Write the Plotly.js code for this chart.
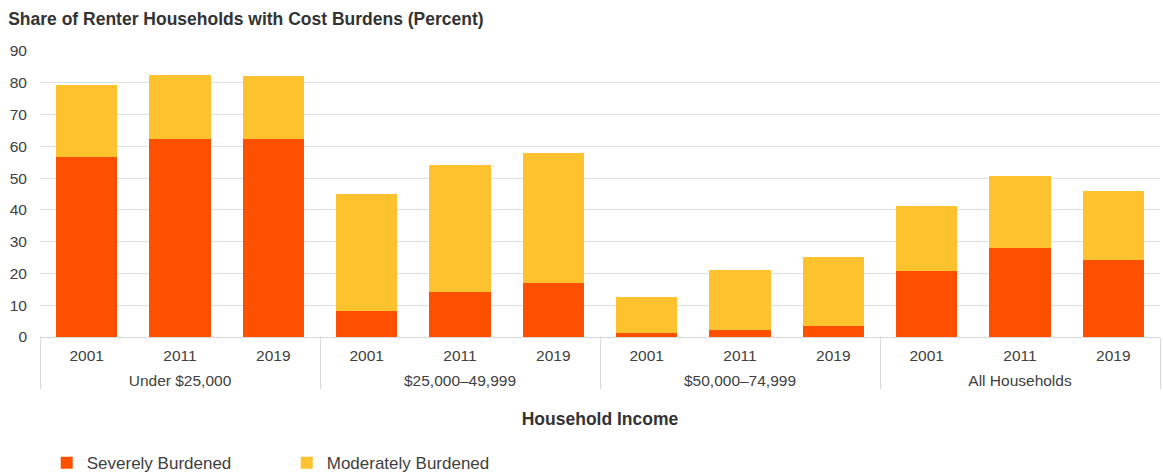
<!DOCTYPE html>
<html>
<head>
<meta charset="utf-8">
<script src="https://cdn.plot.ly/plotly-3.0.1.min.js"></script>
<style>html,body{margin:0;padding:0;background:#fff;}#chart{width:1163px;height:474px;}</style>
</head>
<body>
<div id="chart"></div>
<script>
var groups = ["Under $25,000","Under $25,000","Under $25,000",
              "$25,000–49,999","$25,000–49,999","$25,000–49,999",
              "$50,000–74,999","$50,000–74,999","$50,000–74,999",
              "All Households","All Households","All Households"];
var years = ["2001","2011","2019","2001","2011","2019","2001","2011","2019","2001","2011","2019"];
var severe   = [56.5, 62.4, 62.2, 8.3, 14.1, 16.9, 1.2, 2.1, 3.5, 20.7, 28.0, 24.2];
var moderate = [22.8, 20.0, 19.9, 36.7, 40.0, 40.9, 11.4, 19.1, 21.7, 20.5, 22.7, 21.9];
var seriesNames = ["Severely Burdened", "Moderately Burdened"];

// pad year labels with tall no-break spaces so the group row sits lower
var pad = "<span style='font-size:24px'>\u00a0</span>";
var yearLabels = years.map(function(y){ return pad + y + pad; });

var font = "Liberation Sans, Arial, sans-serif";
var traces = [
  {type:"bar", name:seriesNames[0], x:[groups, yearLabels], y:severe,
   marker:{color:"#FF5000"}, hoverinfo:"y"},
  {type:"bar", name:seriesNames[1], x:[groups, yearLabels], y:moderate,
   marker:{color:"#FDC22E"}, hoverinfo:"y"}
];
var layout = {
  width:1163, height:474,
  margin:{l:40, r:3, t:51, b:137},
  barmode:"stack", bargap:0.34,
  paper_bgcolor:"#fff", plot_bgcolor:"#fff",
  font:{family:font, color:"#404040", size:15.5},
  title:{text:"<b>Share of Renter Households with Cost Burdens (Percent)</b>",
         x:0.007, xanchor:"left", y:0.96, yanchor:"middle",
         font:{family:font, size:17.5, color:"#333333"}},
  xaxis:{type:"multicategory", showline:true, linecolor:"#d9d9d9", linewidth:1,
         showdividers:true, dividercolor:"#d9d9d9", dividerwidth:1,
         tickfont:{size:15.5, color:"#404040"}, ticks:"", ticklabelstandoff:4,
         automargin:false,
         title:{text:"<b>Household Income</b>", font:{size:17.5, color:"#333333"}, standoff:25}},
  yaxis:{range:[0,90], dtick:10, tick0:0, showgrid:true, gridcolor:"#e0e0e0", gridwidth:1,
         zeroline:false, showline:false, ticks:"", automargin:false, ticklabelstandoff:12,
         tickfont:{size:15.5, color:"#404040"}},
  showlegend:true,
  legend:{orientation:"h", x:0.006, xanchor:"left", yref:"container", y:0.023, yanchor:"middle",
          font:{size:17, color:"#404040"}, entrywidth:195, entrywidthmode:"pixels",
          traceorder:"normal"}
};
Plotly.newPlot("chart", traces, layout, {displayModeBar:false, staticPlot:true});
</script>
</body>
</html>
